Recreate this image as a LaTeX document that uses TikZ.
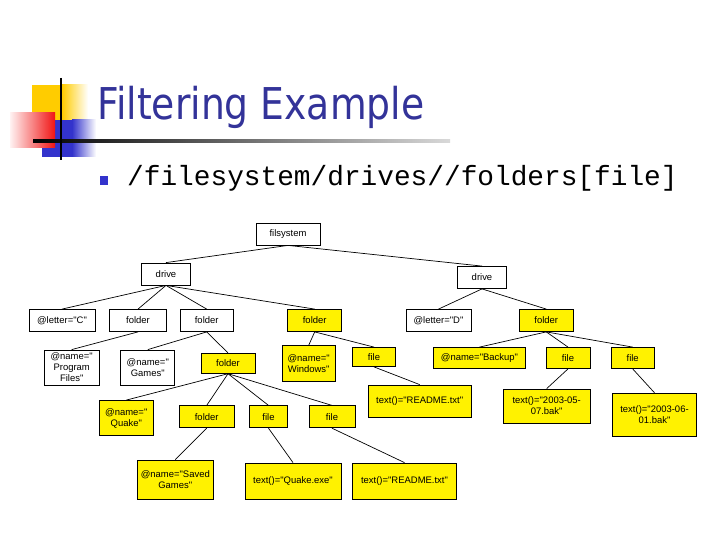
\documentclass[tikz,border=0pt]{standalone}
\usepackage{fontspec}
\setmainfont{Liberation Sans}[Ligatures=TeXOff]
\newfontfamily\titlefont{DejaVu Sans}
\newfontfamily\codefont{Liberation Mono}
\definecolor{titleblue}{RGB}{51,51,153}
\definecolor{decogold}{RGB}{255,204,0}
\definecolor{decoblue}{RGB}{51,51,204}
\definecolor{decored}{RGB}{240,20,20}
\tikzset{
  tn/.style={draw=black, line width=0.8bp, rectangle, inner sep=1bp, align=center,
             font=\fontsize{9.5}{11}\selectfont},
  wn/.style={tn, fill=white},
  yn/.style={tn, fill=yellow},
  sz/.style 2 args={minimum width=#1bp, minimum height=#2bp},
  ed/.style={line width=0.7bp, black},
}
\begin{document}
\begin{tikzpicture}[x=1bp, y=-1bp]
\fill[white] (0,0) rectangle (720,540);
\useasboundingbox (0,0) rectangle (720,540);
% decoration
\fill[decogold] (32,85) rectangle (62,141);
\shade[left color=decogold, right color=white] (62,85) rectangle (88,141);
\fill[decoblue] (42,120) rectangle (72,157);
\shade[left color=decoblue, right color=white] (72,120) rectangle (96,157);
\shade[left color=red!5, right color=decored] (10,113) rectangle (55,148);
\shade[left color=black, right color=black!15] (33,139.8) rectangle (450,142.2);
\draw[line width=2.5bp, black] (61,78) -- (61,160);
% title
\node[anchor=base west, inner sep=0, text=titleblue, font=\titlefont\fontsize{44}{44}\selectfont] (title) at (97,120) {\scalebox{0.86}[1]{Filtering Example}};
% bullet
\fill[decoblue] (100,176) rectangle (108,185);
\node[anchor=base west, inner sep=0, font=\codefont\fontsize{27.9}{28}\selectfont] (xpath) at (127,186) {/filesystem/drives//folders[file]};
% tree nodes
\node[wn, sz={64}{22}] (fs) at (288,234) {filsystem};
\node[wn, sz={49}{22}] (dL) at (166,274) {drive};
\node[wn, sz={49}{22}] (dR) at (482,277.5) {drive};
\node[wn, sz={66}{22}] (lc) at (62,320.5) {@letter="C"};
\node[wn, sz={57}{22}] (f1) at (138,320.5) {folder};
\node[wn, sz={53}{22}] (f2) at (206.7,320.5) {folder};
\node[yn, sz={54}{22}] (f3) at (314.7,320.5) {folder};
\node[wn, sz={65}{22}] (ld) at (438.5,320.5) {@letter="D"};
\node[yn, sz={54}{22}] (f4) at (546.3,320.5) {folder};
\node[wn, sz={55}{35}] (pf) at (71.7,367.5) {@name="\\Program\\Files"};
\node[wn, sz={54}{35}] (gm) at (147.8,367.5) {@name="\\Games"};
\node[yn, sz={54}{20}] (f5) at (228,363.3) {folder};
\node[yn, sz={53}{36}] (wi) at (308.7,363.7) {@name="\\Windows"};
\node[yn, sz={43}{19}] (fl1) at (374,357) {file};
\node[yn, sz={92}{21}] (bk) at (479.5,358) {@name="Backup"};
\node[yn, sz={44}{21}] (fl2) at (568,358) {file};
\node[yn, sz={43}{21}] (fl3) at (632.7,358) {file};
\node[yn, sz={103}{32}] (rd1) at (419.7,401) {text()="README.txt"};
\node[yn, sz={87}{34}] (bk1) at (546.7,406) {text()="2003-05-\\07.bak"};
\node[yn, sz={84}{43}] (bk2) at (654.5,414.7) {text()="2003-06-\\01.bak"};
\node[yn, sz={54}{35}] (qk) at (126.3,418) {@name="\\Quake"};
\node[yn, sz={55}{22}] (f6) at (206.7,416.8) {folder};
\node[yn, sz={38}{22}] (fl4) at (268.5,416.8) {file};
\node[yn, sz={46}{22}] (fl5) at (332,416.8) {file};
\node[yn, sz={76}{39}] (sg) at (175.3,479.5) {@name="Saved\\Games"};
\node[yn, sz={96}{36}] (qe) at (293,481) {text()="Quake.exe"};
\node[yn, sz={104}{36}] (rd2) at (404.5,481) {text()="README.txt"};
% edges
\foreach \p/\c in {fs/dL, fs/dR, dL/lc, dL/f1, dL/f2, dL/f3, dR/ld, dR/f4,
                   f1/pf, f2/gm, f2/f5, f3/wi, f3/fl1, fl1/rd1,
                   f4/bk, f4/fl2, f4/fl3, fl2/bk1, fl3/bk2,
                   f5/qk, f5/f6, f5/fl4, f5/fl5, f6/sg, fl4/qe, fl5/rd2}
  \draw[ed] (\p.south) -- (\c.north);
\end{tikzpicture}
\end{document}
